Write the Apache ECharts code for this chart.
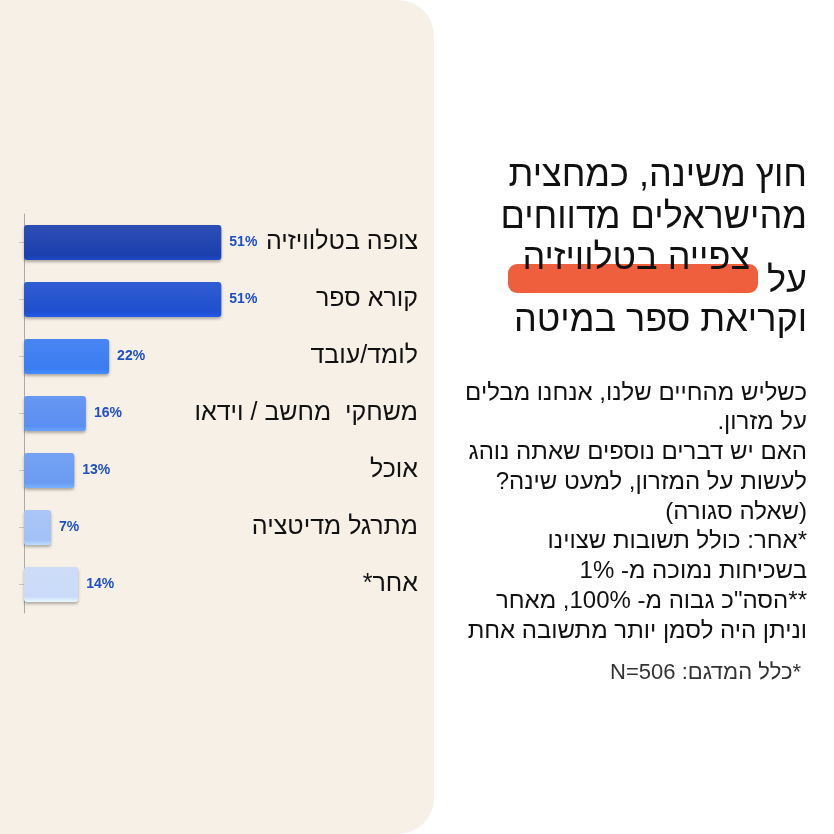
<!DOCTYPE html>
<html lang="he">
<head>
<meta charset="utf-8">
<title>מה עושים על המזרון</title>
<script src="https://cdn.jsdelivr.net/npm/echarts@6/dist/echarts.min.js"></script>
<style>
  html, body { margin: 0; padding: 0; background: #ffffff; }
  #chart { width: 834px; height: 834px; }
</style>
</head>
<body>
<div id="chart" dir="rtl"></div>
<script>
// נתונים
var categories = ['צופה בטלוויזיה', 'קורא ספר', 'לומד/עובד', 'משחקי  מחשב / וידאו', 'אוכל', 'מתרגל מדיטציה', 'אחר*'];
var values = [51, 51, 22, 16, 13, 7, 14];
var barColors = ['#1b3fae', '#1f4fcf', '#3a7cf2', '#5a8ef1', '#6a9bf2', '#a3c1f6', '#c9dbf8'];

var titleLines = ['חוץ משינה, כמחצית', 'מהישראלים מדווחים', 'צפייה בטלוויזיה', 'על', 'וקריאת ספר במיטה'];
var bodyLines = [
    'כשליש מהחיים שלנו, אנחנו מבלים',
    'על מזרון.',
    'האם יש דברים נוספים שאתה נוהג',
    'לעשות על המזרון, למעט שינה?',
    '(שאלה סגורה)',
    '*אחר: כולל תשובות שצוינו',
    'בשכיחות נמוכה מ- 1%',
    '**הסה"כ גבוה מ- 100%, מאחר',
    'וניתן היה לסמן יותר מתשובה אחת'
];
var sampleNote = '*כלל המדגם: N=506';

var FONT = '"Liberation Sans", "DejaVu Sans", sans-serif';

function barData(){
    return values.map(function(v, i){
        return {
            value: v,
            itemStyle: {
                color: new echarts.graphic.LinearGradient(0, 0, 0, 1, [
                    {offset: 0, color: echarts.color.lift(barColors[i], 0.08)},
                    {offset: 0.85, color: barColors[i]},
                    {offset: 1, color: echarts.color.lift(barColors[i], -0.15)}
                ])
            }
        };
    });
}

// טקסט בצד ימין
function textGraphics(){
    var g = [];
    // רקע הפאנל
    g.push({
        type: 'rect', z: -10, silent: true,
        shape: {x: -40, y: 0, width: 474, height: 834, r: 36},
        style: {fill: '#f7f0e6'}
    });
    // סימון כתום
    g.push({
        type: 'rect', z: 1, silent: true,
        shape: {x: 508, y: 264, width: 250, height: 29, r: 9},
        style: {fill: '#ef5f3d'}
    });
    var titleY = [176, 218, 259, 282, 321];
    var titleX = [807, 807, 750, 807, 807];
    titleLines.forEach(function(t, i){
        g.push({
            type: 'text', z: 2, x: titleX[i], y: titleY[i],
            style: {text: t, fill: '#111', font: '36px ' + FONT, align: 'right', verticalAlign: 'middle'}
        });
    });
    bodyLines.forEach(function(t, i){
        g.push({
            type: 'text', z: 2, x: 807, y: 393 + i * 29.75,
            style: {text: t, fill: '#111', font: '24px ' + FONT, align: 'right', verticalAlign: 'middle'}
        });
    });
    g.push({
        type: 'text', z: 2, x: 801, y: 673,
        style: {text: sampleNote, fill: '#333', font: '22px ' + FONT, align: 'right', verticalAlign: 'middle'}
    });
    return g;
}

var chart = echarts.init(document.getElementById('chart'));
chart.setOption({
    animation: false,
    grid: {left: 24, right: 574, top: 214, bottom: 221, containLabel: false},
    xAxis: {type: 'value', min: 0, max: 61, show: false},
    yAxis: [{
        type: 'category', data: categories, inverse: true, position: 'left',
        axisLine: {show: true, lineStyle: {color: '#a9a9a9', width: 1}},
        axisTick: {show: true, alignWithLabel: true, length: 5, lineStyle: {color: '#c8c8c8'}},
        axisLabel: {show: false}
    }, {
        type: 'category', data: categories, inverse: true, position: 'right',
        axisLine: {show: false}, axisTick: {show: false},
        axisLabel: {align: 'right', margin: 158, color: '#111', fontSize: 25, fontFamily: FONT}
    }],
    series: [{
        type: 'bar', yAxisIndex: 0, barWidth: 35,
        data: barData(),
        itemStyle: {borderRadius: 3, shadowColor: 'rgba(0,0,0,0.3)', shadowBlur: 3, shadowOffsetY: 2},
        label: {
            show: true, position: 'right', distance: 8,
            formatter: '{c}%', color: '#1e4fc4', fontWeight: 'bold', fontSize: 14, fontFamily: FONT
        }
    }],
    graphic: textGraphics()
});

window.addEventListener("resize", function() {
    chart.resize();
});
</script>
</body>
</html>
